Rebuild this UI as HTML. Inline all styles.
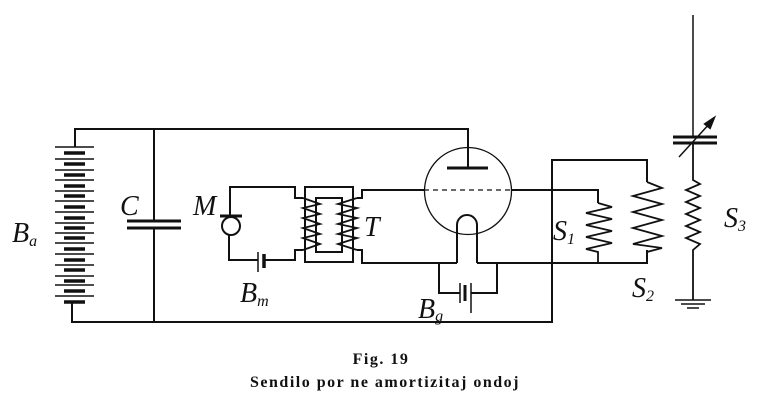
<!DOCTYPE html>
<html><head><meta charset="utf-8"><style>
html,body{margin:0;padding:0;background:#fff;}
svg{display:block;}
text{font-family:"Liberation Serif",serif;fill:#111;}
</style></head><body>
<svg width="765" height="409" viewBox="0 0 765 409" xmlns="http://www.w3.org/2000/svg">
<g stroke="#111" stroke-width="2" fill="none">
<polyline points="75,147 75,129 468,129 468,168"/>
<polyline points="72,302 72,322 552,322 552,160 647,160 647,182"/>
<g stroke-width="1.5">
<line x1="55" y1="147" x2="94" y2="147"/><line x1="55" y1="159" x2="94" y2="159"/>
<line x1="55" y1="170" x2="94" y2="170"/><line x1="55" y1="180" x2="94" y2="180"/>
<line x1="55" y1="191" x2="94" y2="191"/><line x1="55" y1="201" x2="94" y2="201"/>
<line x1="55" y1="212" x2="94" y2="212"/><line x1="55" y1="223" x2="94" y2="223"/>
<line x1="55" y1="233" x2="94" y2="233"/><line x1="55" y1="243" x2="94" y2="243"/>
<line x1="55" y1="254" x2="94" y2="254"/><line x1="55" y1="265" x2="94" y2="265"/>
<line x1="55" y1="276" x2="94" y2="276"/><line x1="55" y1="285" x2="94" y2="285"/>
<line x1="55" y1="296" x2="94" y2="296"/>
</g>
<g stroke-width="3.5">
<line x1="64" y1="153" x2="85" y2="153"/><line x1="64" y1="164" x2="85" y2="164"/>
<line x1="64" y1="175" x2="85" y2="175"/><line x1="64" y1="186" x2="85" y2="186"/>
<line x1="64" y1="196" x2="85" y2="196"/><line x1="64" y1="207" x2="85" y2="207"/>
<line x1="64" y1="218" x2="85" y2="218"/><line x1="64" y1="228" x2="85" y2="228"/>
<line x1="64" y1="238" x2="85" y2="238"/><line x1="64" y1="249" x2="85" y2="249"/>
<line x1="64" y1="260" x2="85" y2="260"/><line x1="64" y1="270" x2="85" y2="270"/>
<line x1="64" y1="281" x2="85" y2="281"/><line x1="64" y1="291" x2="85" y2="291"/>
<line x1="64" y1="302" x2="85" y2="302"/>
</g>
<line x1="154" y1="129" x2="154" y2="221"/><line x1="154" y1="228" x2="154" y2="322"/>
<line x1="127" y1="221" x2="181" y2="221" stroke-width="3"/><line x1="127" y1="228" x2="181" y2="228" stroke-width="3"/>
<polyline points="230,217 230,187 295,187 295,198 303,198"/>
<circle cx="231" cy="226" r="9"/>
<line x1="220" y1="216" x2="242" y2="216" stroke-width="3"/>
<polyline points="229,235 229,260 258,260"/>
<line x1="258" y1="252" x2="258" y2="272" stroke-width="1.5"/>
<line x1="264" y1="254" x2="264" y2="268" stroke-width="3.5"/>
<polyline points="264,260 295,260 295,250 303,250"/>
<rect x="305" y="187" width="48" height="75"/>
<rect x="316" y="198" width="26" height="54"/>
<polyline points="303,198 320,204 303,208 320,214 303,218 320,224 303,228 320,234 303,238 320,244 303,250" stroke-width="1.8"/>
<polyline points="357,198 338,204 357,208 338,214 357,218 338,224 357,228 338,234 357,238 338,244 357,250" stroke-width="1.8"/>
<polyline points="357,198 362,198 362,190 424,190"/>
<polyline points="357,250 362,250 362,263 457,263"/>
<circle cx="468" cy="191" r="43.5" stroke-width="1.3"/>
<line x1="447" y1="168" x2="488" y2="168" stroke-width="3"/>
<line x1="424" y1="190" x2="511" y2="190" stroke-width="1.3" stroke-dasharray="5,4"/>
<polyline points="511,190 598,190 598,203"/>
<path d="M457,263 V225 A10,10 0 0 1 477,225 V263"/>
<polyline points="477,263 647,263 647,250"/>
<polyline points="439,263 439,293 460,293"/>
<line x1="460" y1="283" x2="460" y2="303" stroke-width="1.5"/>
<line x1="465" y1="285" x2="465" y2="301" stroke-width="3"/>
<line x1="471" y1="283" x2="471" y2="313" stroke-width="1.5"/>
<polyline points="471,293 497,293 497,263"/>
<polyline points="598,203 612,207 586,213 612,219 586,225 612,231 586,237 612,243 586,249 598,252 598,263" stroke-width="1.8"/>
<polyline points="647,182 662,188 633,196 662,204 633,212 662,220 633,228 662,236 633,244 662,248 647,252 647,263" stroke-width="1.8"/>
<line x1="693" y1="15" x2="693" y2="137" stroke-width="1.5"/>
<line x1="673" y1="137" x2="717" y2="137" stroke-width="3"/>
<line x1="673" y1="143" x2="717" y2="143" stroke-width="3"/>
<line x1="679" y1="157" x2="711" y2="122" stroke-width="1.5"/>
<polygon points="714,118 705,124 710,128" fill="#111"/>
<polyline points="693,143 693,180 700,184 686,190 700,196 686,202 700,208 686,214 700,220 686,226 700,232 686,238 700,244 693,250 693,300" stroke-width="1.8"/>
<line x1="675" y1="300" x2="711" y2="300" stroke-width="1.5"/>
<line x1="681" y1="304" x2="705" y2="304" stroke-width="1.5"/>
<line x1="687" y1="308" x2="699" y2="308" stroke-width="1.5"/>
</g>
<g font-style="italic" font-size="28">
<text x="12" y="242">B<tspan font-size="16" dy="4">a</tspan></text>
<text x="120" y="215">C</text>
<text x="193" y="215">M</text>
<text x="364" y="236">T</text>
<text x="240" y="302">B<tspan font-size="16" dy="4">m</tspan></text>
<text x="418" y="318">B<tspan font-size="16" dy="3">g</tspan></text>
<text x="553" y="240">S<tspan font-size="16" dy="4">1</tspan></text>
<text x="632" y="297">S<tspan font-size="16" dy="4">2</tspan></text>
<text x="724" y="227">S<tspan font-size="16" dy="4">3</tspan></text>
</g>
<g font-weight="bold" font-size="16" text-anchor="middle">
<text x="381" y="364" letter-spacing="1.5">Fig. 19</text>
<text x="385" y="387" letter-spacing="1.5">Sendilo por ne amortizitaj ondoj</text>
</g>
</svg>
</body></html>
